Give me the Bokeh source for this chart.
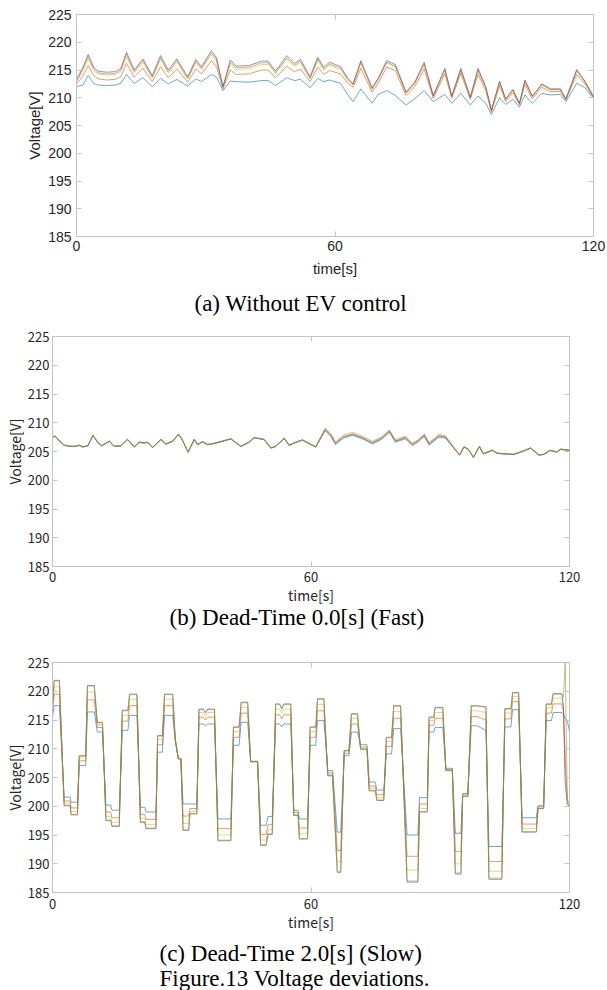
import numpy as np
from bokeh.plotting import figure
from bokeh.models import Range1d, FixedTicker, LinearAxis, Title
from bokeh.layouts import column, row
from bokeh.embed import file_html
from bokeh.resources import INLINE

# ---------------- data ----------------
x_ticks = [0, 60, 120]
y_ticks = [185, 190, 195, 200, 205, 210, 215, 220, 225]

# (a) Without EV control
a_t = [0, 1.5, 2.7, 4, 5, 7, 9, 10.3, 11.6, 13.4,
       15.4, 17.6, 19.5, 21.3, 23.3, 25.8, 27.7, 29, 31.3, 32.5,
       34, 35.7, 37, 40, 43, 44.5, 46.2, 48.8, 50.6, 52,
       54.2, 56, 57.4, 58.7, 61.3, 63, 64.2, 66, 68.6, 70,
       72, 74, 76.5, 78.5, 80.7, 82.8, 85.5, 87.1, 89.2, 91.4,
       93.2, 95, 96.3, 98.2, 99.6, 101.3, 102.8, 104.1, 105.8, 108,
       110, 112.3, 113.6, 116.1, 118, 120]
a_purple = [213.3, 215.5, 217.8, 215.5, 214.8, 214.6, 214.7, 215.3, 218.2, 215.0,
            217.0, 214.0, 217.6, 215.0, 217.0, 213.8, 216.9, 215.6, 218.5, 217.2,
            212.0, 216.8, 215.7, 215.8, 216.6, 216.6, 214.8, 217.6, 216.2, 216.9,
            213.8, 217.3, 215.5, 216.4, 215.6, 213.5, 212.5, 216.7, 211.8, 213.5,
            216.7, 216.0, 211.0, 212.8, 216.4, 210.4, 215.3, 210.3, 215.3, 210.1,
            215.3, 212.0, 207.8, 213.0, 209.8, 211.5, 209.0, 213.2, 210.3, 212.5,
            211.6, 211.6, 209.8, 215.1, 213.0, 210.2]
a_green = [213.0, 215.2, 217.4, 215.2, 214.5, 214.3, 214.4, 215.0, 217.8, 214.7,
           216.7, 213.7, 217.2, 214.7, 216.7, 213.5, 216.6, 215.3, 218.1, 216.9,
           211.9, 216.4, 215.4, 215.5, 216.3, 216.3, 214.5, 217.2, 215.9, 216.6,
           213.5, 217.0, 215.2, 216.1, 215.3, 213.3, 212.4, 216.4, 211.6, 213.3,
           216.4, 215.7, 210.9, 212.6, 216.1, 210.3, 215.0, 210.2, 215.0, 210.0,
           215.0, 211.8, 207.7, 212.8, 209.7, 211.4, 208.9, 213.0, 210.2, 212.4,
           211.5, 211.5, 209.7, 214.9, 212.9, 210.1]
a_yellow = [212.9, 214.9, 217.0, 214.9, 214.3, 214.1, 214.2, 214.8, 217.4, 214.5,
            216.4, 213.6, 216.9, 214.5, 216.4, 213.4, 216.3, 215.1, 217.8, 216.6,
            211.8, 216.1, 215.1, 215.2, 216.0, 216.0, 214.4, 216.9, 215.7, 216.3,
            213.4, 216.7, 215.0, 215.9, 215.1, 213.1, 212.3, 216.2, 211.5, 213.2,
            216.3, 215.6, 210.8, 212.5, 215.9, 210.2, 214.9, 210.1, 214.9, 209.9,
            214.8, 211.7, 207.6, 212.7, 209.6, 211.3, 208.9, 212.9, 210.1, 212.3,
            211.4, 211.4, 209.7, 214.8, 212.8, 210.1]
a_orange = [212.5, 213.9, 215.8, 214.0, 213.4, 213.2, 213.3, 213.8, 216.2, 213.7,
            215.3, 212.9, 215.6, 213.6, 215.2, 212.8, 215.2, 214.3, 216.6, 215.6,
            211.6, 215.0, 214.2, 214.3, 215.0, 215.0, 213.6, 215.7, 214.7, 215.2,
            212.9, 215.5, 214.2, 214.9, 214.3, 212.6, 211.9, 215.3, 211.0, 212.6,
            215.5, 214.9, 210.4, 212.0, 215.2, 209.9, 214.3, 209.9, 214.4, 209.7,
            214.2, 211.3, 207.4, 212.2, 209.3, 210.9, 208.7, 212.4, 209.8, 211.9,
            211.1, 211.1, 209.6, 214.2, 212.5, 210.0]
a_blue = [212.0, 212.3, 214.0, 212.6, 212.3, 212.2, 212.3, 212.6, 214.2, 212.6,
          213.6, 212.0, 213.5, 212.5, 213.3, 212.1, 213.4, 212.9, 214.2, 213.7,
          211.3, 213.0, 212.9, 212.8, 213.1, 213.1, 212.2, 213.6, 213.1, 213.3,
          211.8, 213.5, 212.9, 213.2, 212.6, 210.5, 209.3, 211.6, 209.0, 210.6,
          211.3, 210.4, 208.7, 209.8, 211.3, 209.3, 210.6, 209.0, 210.8, 208.7,
          210.3, 209.0, 207.0, 210.0, 208.8, 209.7, 208.3, 210.5, 209.0, 210.8,
          210.5, 210.6, 209.3, 212.6, 211.8, 209.9]

# (b) Dead-Time 0.0[s] (Fast)
b_t = [0, 0.6, 1.5, 2.7, 4, 5.5, 6.2, 7, 8.2, 9.4,
       10.5, 11.4, 13.2, 14.3, 15.9, 17.4, 19.0, 20.1, 21.3, 22.1,
       23.2, 25.2, 26.3, 27.9, 29.2, 30.0, 31.5, 32.9, 33.7, 34.8,
       36.0, 37.5, 41.4, 43.7, 45.6, 46.8, 49.1, 50.7, 51.8, 53.8,
       54.9, 56.5, 58.0, 61.1, 63.3, 64.6, 65.7, 67.5, 69.6, 71.9,
       74.2, 76.2, 78.2, 79.6, 81.9, 83.5, 84.8, 86.3, 87.4, 89.7,
       91.2, 93.5, 94.5, 95.5, 96.5, 97.7, 99.1, 100, 102.1, 103.2,
       104.8, 107, 109, 111, 112.9, 114, 115.5, 117, 118, 120]
b_main = [207.4, 207.7, 206.9, 206.1, 205.9, 205.9, 206.1, 205.8, 206.0, 207.8,
          206.6, 206.0, 206.8, 205.9, 206.0, 207.1, 205.8, 206.6, 206.5, 206.6,
          205.7, 207.1, 206.3, 206.8, 208.0, 207.2, 204.9, 207.1, 206.2, 206.7,
          206.2, 206.4, 207.2, 205.9, 206.6, 207.4, 207.1, 205.6, 205.9, 207.3,
          206.1, 206.6, 207.0, 205.8, 208.8, 207.8, 206.4, 207.5, 208.0, 207.4,
          206.5, 207.2, 208.5, 206.8, 207.4, 206.2, 206.8, 207.8, 206.3, 207.7,
          207.5, 205.3, 204.4, 205.8, 205.4, 204.0, 205.9, 204.6, 205.2, 204.7,
          204.6, 204.5, 205.0, 205.6, 204.4, 204.5, 205.2, 204.9, 205.4, 205.2]
b_orange = [207.45, 207.75, 206.95, 206.15, 205.95, 205.95, 206.15, 205.85, 206.05, 207.85,
            206.65, 206.05, 206.85, 205.95, 206.05, 207.15, 205.85, 206.65, 206.55, 206.65,
            205.75, 207.15, 206.35, 206.85, 208.05, 207.25, 204.95, 207.15, 206.25, 206.75,
            206.25, 206.45, 207.25, 205.95, 206.65, 207.45, 207.15, 205.65, 205.95, 207.35,
            206.15, 206.65, 207.05, 205.85, 209.05, 208.1, 206.65, 207.8, 208.3, 207.65,
            206.75, 207.45, 208.75, 207.05, 207.65, 206.45, 207.05, 208.05, 206.55, 207.95,
            207.75, 205.35, 204.45, 205.85, 205.45, 204.05, 205.95, 204.65, 205.25, 204.75,
            204.65, 204.55, 205.05, 205.65, 204.45, 204.55, 205.25, 204.95, 205.45, 205.25]
b_blue = [207.35, 207.65, 206.85, 206.05, 205.85, 205.85, 206.05, 205.75, 205.95, 207.75,
          206.55, 205.95, 206.75, 205.85, 205.95, 207.05, 205.75, 206.55, 206.45, 206.55,
          205.65, 207.05, 206.25, 206.75, 207.95, 207.15, 204.85, 207.05, 206.15, 206.65,
          206.15, 206.35, 207.15, 205.85, 206.55, 207.35, 207.05, 205.55, 205.85, 207.25,
          206.05, 206.55, 206.95, 205.75, 208.6, 207.6, 206.2, 207.3, 207.8, 207.2,
          206.3, 207.0, 208.3, 206.6, 207.2, 206.0, 206.6, 207.6, 206.1, 207.5,
          207.3, 205.25, 204.35, 205.75, 205.35, 203.95, 205.85, 204.55, 205.15, 204.65,
          204.55, 204.45, 204.95, 205.55, 204.35, 204.45, 205.15, 204.85, 205.35, 205.15]

# (c) Dead-Time 2.0[s] (Slow): plateau start / end times and level of each series
c_t0 = [0, 0.4, 2.7, 4.3, 6.2, 8.1, 10.4, 12.4, 13.8, 16.2,
        17.9, 20.4, 21.7, 24.4, 26.0, 28.5, 29.2, 30.3, 31.9, 34.0,
        35.5, 36.0, 38.4, 42.0, 43.8, 46.0, 48.3, 50.0, 51.8, 53.2,
        53.7, 56.0, 57.3, 59.8, 61.5, 63.9, 66.1, 67.7, 69.4, 71.5,
        73.5, 75.3, 77.5, 79.2, 82.3, 85.2, 87.4, 88.8, 91.3, 93.5,
        95.2, 97.2, 100.6, 101.3, 105.0, 106.8, 109.0, 112.7, 114.6, 116.2,
        118.6, 119.0, 119.5, 120.0]
c_t1 = [0, 1.6, 4.1, 5.8, 7.7, 9.7, 11.6, 13.5, 15.5, 17.5,
        19.6, 21.4, 24.0, 25.5, 27.9, 28.5, 29.8, 31.6, 33.5, 35.0,
        35.5, 37.6, 41.4, 43.3, 45.3, 47.6, 49.6, 51.0, 52.7, 53.2,
        55.3, 57.0, 59.2, 61.1, 63.0, 65.0, 66.9, 68.8, 70.8, 73.0,
        74.9, 76.9, 78.7, 80.8, 84.8, 87.0, 88.5, 90.6, 92.8, 94.8,
        96.4, 98.5, 100.6, 104.3, 106.4, 108.2, 112.3, 114.0, 115.8, 118.2,
        118.6, 119.0, 119.5, 120.0]
c_blue = [215.5, 217.5, 201.6, 200.7, 207.1, 216.4, 212.9, 200.2, 199.3, 213.2,
          215.8, 199.8, 199.0, 209.4, 215.8, 211.3, 208.3, 200.4, 200.4, 214.3,
          214.0, 214.3, 197.8, 210.6, 214.6, 207.8, 196.7, 198.2, 214.3, 213.8,
          214.3, 199.3, 197.8, 210.6, 214.9, 206.2, 195.5, 208.8, 212.9, 210.7,
          204.2, 202.8, 209.1, 213.5, 195.0, 201.5, 212.9, 213.7, 206.6, 195.3,
          202.2, 214.0, 213.2, 193.0, 213.8, 216.8, 198.0, 200.1, 214.9, 216.3,
          216.0, 215.3, 214.8, 213.0]
c_orange = [216.4, 219.5, 200.9, 199.7, 207.9, 218.5, 213.7, 199.0, 198.0, 214.8,
            217.5, 198.6, 197.7, 210.7, 217.5, 211.5, 208.3, 198.3, 199.6, 215.5,
            215.0, 215.5, 196.1, 212.0, 216.2, 207.8, 195.1, 196.8, 215.9, 215.2,
            215.9, 198.9, 196.2, 212.0, 216.6, 205.8, 192.3, 209.2, 214.3, 210.3,
            203.5, 202.0, 210.4, 215.3, 191.3, 200.4, 214.1, 215.3, 206.4, 192.1,
            202.0, 215.6, 215.0, 190.4, 215.2, 218.2, 196.9, 199.9, 216.2, 217.8,
            216.5, 209.0, 201.0, 200.8]
c_yellow = [217.0, 220.8, 200.5, 199.1, 208.4, 219.9, 214.2, 198.2, 197.2, 215.8,
            218.6, 197.9, 196.8, 211.6, 218.6, 211.6, 208.3, 197.0, 199.1, 216.3,
            215.7, 216.3, 195.0, 213.0, 217.2, 207.8, 194.1, 195.9, 216.9, 216.2,
            216.9, 198.6, 195.2, 213.0, 217.7, 205.5, 190.3, 209.5, 215.3, 210.1,
            203.1, 201.5, 211.3, 216.5, 188.9, 199.6, 214.9, 216.3, 206.3, 190.0,
            201.8, 216.6, 216.3, 188.7, 216.2, 219.1, 196.1, 199.7, 217.1, 218.8,
            217.0, 206.0, 200.5, 200.3]
c_purple = [217.5, 221.9, 200.1, 198.5, 208.8, 221.0, 214.6, 197.5, 196.5, 216.7,
            219.5, 197.2, 196.1, 212.3, 219.5, 211.7, 208.2, 195.8, 198.7, 216.9,
            216.3, 216.9, 194.0, 213.8, 218.1, 207.7, 193.2, 195.1, 217.8, 217.0,
            217.8, 198.4, 194.3, 213.8, 218.7, 205.3, 188.5, 209.7, 216.1, 209.9,
            202.7, 201.0, 212.0, 217.5, 186.8, 199.0, 215.5, 217.2, 206.2, 188.2,
            201.7, 217.5, 217.3, 187.3, 217.0, 219.8, 195.5, 199.6, 217.8, 219.6,
            217.5, 204.0, 200.3, 200.0]
c_green = [217.4, 221.8, 200.1, 198.6, 208.7, 220.9, 214.5, 197.6, 196.6, 216.6,
           219.4, 197.3, 196.2, 212.2, 219.4, 211.7, 208.3, 195.9, 198.7, 216.8,
           216.2, 216.8, 194.1, 213.7, 218.0, 207.8, 193.3, 195.2, 217.7, 216.9,
           217.7, 198.4, 194.4, 213.7, 218.6, 205.3, 188.7, 209.7, 216.0, 209.9,
           202.7, 201.1, 211.9, 217.4, 187.0, 199.1, 215.4, 217.1, 206.2, 188.4,
           201.7, 217.4, 217.2, 187.5, 216.9, 219.7, 195.6, 199.6, 217.7, 219.5,
           219.0, 225.0, 201.0, 200.0]

captions = ["(a) Without EV control", "(b) Dead-Time 0.0[s] (Fast)",
            "(c) Dead-Time 2.0[s] (Slow)", "Figure.13 Voltage deviations."]

# ---------------- styling ----------------
COLORS = {"blue": "#0072BD", "orange": "#D95319", "yellow": "#EDB120",
          "purple": "#7E2F8E", "green": "#77AC30"}
BOX = "#c4c4c4"
TXT = "#262626"
SERIF = "Liberation Serif"


def make_fig(height, left, right, top, bottom, tfont, tsize, lfont, lsize,
             ystand, lstand, xstand, xlstand):
    p = figure(width=607, height=height, x_range=Range1d(0, 120),
               y_range=Range1d(185, 225), output_backend="svg",
               toolbar_location=None, title=None,
               min_border_left=left, min_border_right=right,
               min_border_top=top, min_border_bottom=bottom)
    p.background_fill_color = "white"
    p.border_fill_color = "white"
    p.grid.visible = False
    p.outline_line_color = BOX
    p.outline_line_width = 1
    p.xaxis.ticker = FixedTicker(ticks=x_ticks)
    p.yaxis.ticker = FixedTicker(ticks=y_ticks)
    for ax in (p.xaxis[0], p.yaxis[0]):
        ax.axis_line_color = BOX
        ax.major_tick_line_color = BOX
        ax.major_tick_in = 5
        ax.major_tick_out = 0
        ax.minor_tick_line_color = None
        ax.major_label_text_font = tfont
        ax.major_label_text_font_size = tsize
        ax.major_label_text_color = TXT
        ax.axis_label_text_font = lfont
        ax.axis_label_text_font_size = lsize
        ax.axis_label_text_font_style = "normal"
        ax.axis_label_text_color = TXT
    p.xaxis.axis_label = "time[s]"
    p.yaxis.axis_label = "Voltage[V]"
    p.yaxis.major_label_standoff = ystand
    p.yaxis.axis_label_standoff = lstand
    p.xaxis.major_label_standoff = xstand
    p.xaxis.axis_label_standoff = xlstand
    # mirrored tick marks (MATLAB box style), no labels
    rax = LinearAxis(ticker=FixedTicker(ticks=y_ticks), major_label_text_color=None,
                     major_label_text_font_size="1px",
                     major_tick_in=5, major_tick_out=0, axis_line_color=None,
                     major_tick_line_color=BOX, minor_tick_line_color=None,
                     major_label_standoff=0)
    tax = LinearAxis(ticker=FixedTicker(ticks=x_ticks), major_label_text_color=None,
                     major_label_text_font_size="1px",
                     major_tick_in=5, major_tick_out=0, axis_line_color=None,
                     major_tick_line_color=BOX, minor_tick_line_color=None,
                     major_label_standoff=0)
    p.add_layout(rax, "right")
    p.add_layout(tax, "above")
    return p


def spacer(p, n):
    # invisible band below the x axis that pushes the caption down by n px
    sp = LinearAxis(ticker=FixedTicker(ticks=[60]), major_tick_in=0, major_tick_out=n,
                    major_tick_line_color=None, axis_line_color=None,
                    minor_tick_line_color=None, major_label_text_color=None,
                    major_label_text_font_size="1px", major_label_standoff=0)
    p.add_layout(sp, "below")


def caption(p, text, offset, standoff=0):
    t = Title(text=text, align="left", text_font=SERIF, text_font_size="23px",
              text_font_style="normal", text_color="black", offset=offset,
              standoff=standoff, text_line_height=1.0)
    p.add_layout(t, "below")


# (a)
pa = make_fig(322, 76, 14, 14, 86, "Liberation Sans", "14px", "Liberation Sans", "15px",
              5, 2, 4, 6)
a_data = {"blue": a_blue, "orange": a_orange, "yellow": a_yellow,
          "purple": a_purple, "green": a_green}
for name in ["blue", "orange", "yellow", "green", "purple"]:
    pa.line(a_t, a_data[name], line_color=COLORS[name], line_width=1, line_alpha=0.6)
spacer(pa, 9)
caption(pa, captions[0], 118)

# (b)
pb = make_fig(326, 52, 38, 14, 82, "Noto Sans CJK JP", "13px", "Noto Sans CJK JP", "14px",
              3, 0, 5, 0)
b_data = {"blue": b_blue, "orange": b_orange, "yellow": b_main,
          "purple": b_main, "green": b_main}
for name in ["blue", "orange", "yellow", "purple", "green"]:
    pb.line(b_t, b_data[name], line_color=COLORS[name], line_width=1, line_alpha=0.55)
caption(pb, captions[1], 117, -10)

# (c)
pc = make_fig(342, 52, 38, 14, 98, "Noto Sans CJK JP", "13px", "Noto Sans CJK JP", "14px",
              3, 0, 6, 0)
c_x = np.column_stack([c_t0, c_t1]).ravel()
c_data = {"blue": c_blue, "orange": c_orange, "yellow": c_yellow,
          "purple": c_purple, "green": c_green}
for name in ["blue", "orange", "yellow", "purple", "green"]:
    pc.line(c_x, np.repeat(c_data[name], 2), line_color=COLORS[name],
            line_width=1, line_alpha=0.6)
spacer(pc, 4)
caption(pc, captions[2] + "\n" + captions[3], 107)

layout = column(row(pa), row(pb), row(pc), spacing=0)
open("out.html", "w").write(file_html(layout, INLINE))
